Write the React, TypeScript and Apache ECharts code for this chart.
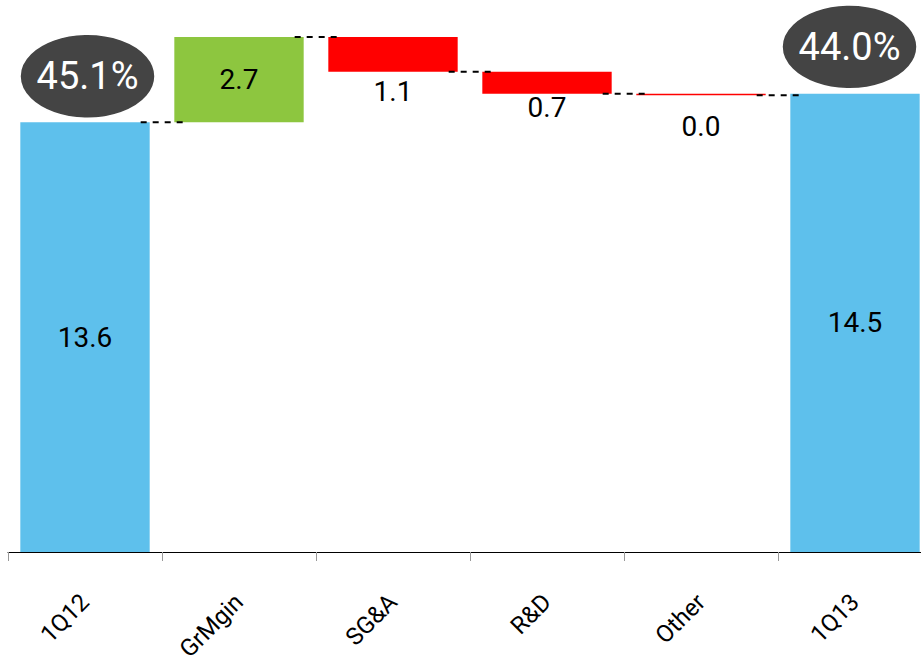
import React, { useEffect, useRef } from "react";
import * as echarts from "echarts";

const categories = ["1Q12", "GrMgin", "SG&A", "R&D", "Other", "1Q13"];
const startValue = 13.6;
const changes = [2.7, -1.1, -0.7, -0.04];
const endValue = 14.5;
const marginLabels = ["45.1%", "44.0%"];

const BLUE = "#5EC0EC";
const GREEN = "#8DC63F";
const RED = "#FF0000";
const FONT = "Roboto";

export default function App() {
  const ref = useRef<HTMLDivElement>(null);
  useEffect(() => {
    document.body.style.overflow = "hidden";
    const chart = echarts.init(ref.current!, null, { renderer: "svg" });

    const base: number[] = [];
    const vis: any[] = [];
    const levels: number[] = [];
    let cum = startValue;
    base.push(0);
    vis.push({ value: startValue, itemStyle: { color: BLUE }, label: { position: "inside" } });
    levels.push(cum);
    const labelDist = [0, 6, 0, 17];
    changes.forEach((d, i) => {
      if (d >= 0) {
        base.push(cum);
        vis.push({ value: d, itemStyle: { color: GREEN }, label: { position: "inside" } });
      } else {
        base.push(cum + d);
        vis.push({
          value: -d,
          itemStyle: { color: RED },
          label: { position: "bottom", distance: labelDist[i] },
        });
      }
      cum += d;
      levels.push(cum);
    });
    base.push(0);
    vis.push({ value: endValue, itemStyle: { color: BLUE }, label: { position: "inside" } });

    const connectors = levels.map((v, i) => [i, v]);

    chart.setOption({
      animation: false,
      grid: { left: 8, right: 1, top: 37, bottom: 113, containLabel: false },
      xAxis: {
        type: "category",
        data: categories,
        axisLine: { lineStyle: { color: "#000", width: 1 } },
        axisTick: { show: true, length: 9, lineStyle: { color: "#999" }, alignWithLabel: false },
        axisLabel: {
          rotate: 45,
          margin: 46,
          color: "#000",
          fontSize: 24,
          fontFamily: FONT,
          interval: 0,
        },
        splitLine: { show: false },
      },
      yAxis: { type: "value", min: 0, max: 16.3, show: false, splitLine: { show: false } },
      series: [
        {
          type: "bar",
          stack: "w",
          data: base,
          barWidth: "84%",
          itemStyle: { color: "transparent" },
          silent: true,
        },
        {
          type: "bar",
          stack: "w",
          data: vis,
          barWidth: "84%",
          label: {
            show: true,
            color: "#000",
            fontSize: 28,
            fontFamily: FONT,
            formatter: (p: any) => Math.abs(p.value).toFixed(1),
          },
        },
        {
          type: "custom",
          data: connectors,
          z: 5,
          renderItem: (params: any, api: any) => {
            const i = api.value(0);
            const v = api.value(1);
            const pt = api.coord([i, v]);
            const w = api.size([1, 0])[0];
            const half = (w * 0.84) / 2;
            return {
              type: "line",
              shape: {
                x1: pt[0] + half - 9,
                y1: pt[1],
                x2: pt[0] + w - half + 10,
                y2: pt[1],
              },
              style: { stroke: "#000", lineWidth: 2, lineDash: [6, 6] },
            };
          },
        },
        {
          type: "scatter",
          z: 6,
          symbol: "circle",
          symbolSize: [136, 84],
          data: [
            { value: [0, startValue], symbolOffset: [2.5, -46], name: marginLabels[0] },
            { value: [5, endValue], symbolOffset: [-5.5, -47], name: marginLabels[1] },
          ],
          itemStyle: { color: "#444444", borderColor: "#fff", borderWidth: 2, opacity: 1 },
          label: {
            show: true,
            position: "inside",
            color: "#fff",
            fontSize: 38,
            fontFamily: FONT,
            formatter: (p: any) => p.name,
          },
        },
      ],
    });
    return () => chart.dispose();
  }, []);
  return (
    <div
      ref={ref}
      style={{ position: "fixed", left: 0, top: 0, width: 933, height: 665, background: "#fff" }}
    />
  );
}
